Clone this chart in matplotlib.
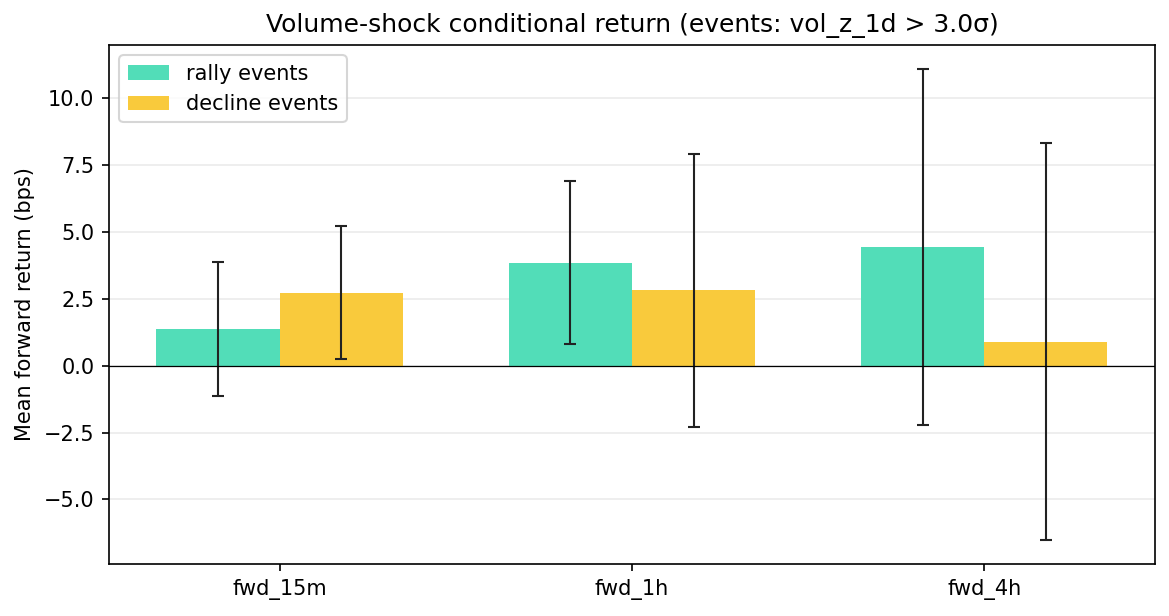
import numpy as np
import matplotlib
matplotlib.use("Agg")
import matplotlib.pyplot as plt

horizons = ["fwd_15m", "fwd_1h", "fwd_4h"]
rally_mean = [1.37, 3.85, 4.45]
rally_err = [2.52, 3.05, 6.65]
decline_mean = [2.73, 2.82, 0.90]
decline_err = [2.48, 5.10, 7.43]

fig, ax = plt.subplots(figsize=(1169 / 150, 616 / 150), dpi=150)
fig.subplots_adjust(left=0.0932, right=0.988, top=0.927, bottom=0.0844)

x = np.arange(len(horizons))
w = 0.35
err_kw = dict(ecolor="#222222", elinewidth=1, capthick=1)
ax.bar(x - w / 2, rally_mean, w, yerr=rally_err, capsize=3,
       color="#52DDB8", label="rally events", error_kw=err_kw)
ax.bar(x + w / 2, decline_mean, w, yerr=decline_err, capsize=3,
       color="#F9CA3C", label="decline events", error_kw=err_kw)

ax.axhline(0, color="black", linewidth=0.6)
ax.grid(axis="y", alpha=0.25)
ax.set_axisbelow(True)
ax.set_xticks(x)
ax.set_xticklabels(horizons)
ax.set_ylabel("Mean forward return (bps)")
ax.set_title("Volume-shock conditional return (events: vol_z_1d > 3.0σ)")
ax.legend(loc="upper left")

fig.savefig("out.png", dpi=150)
